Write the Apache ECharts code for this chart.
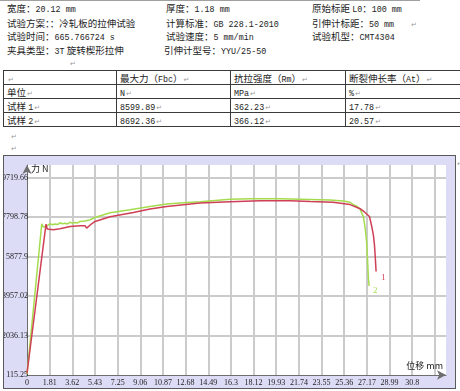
<!DOCTYPE html>
<html><head><meta charset="utf-8">
<script src="https://cdn.jsdelivr.net/npm/echarts@6/dist/echarts.min.js"></script>
<style>
html,body{margin:0;padding:0;background:#fff;}
body{width:460px;height:391px;overflow:hidden;position:relative;font-family:'Noto Sans CJK SC',sans-serif;color:#1c1c1c;}
.t{position:absolute;white-space:nowrap;font-size:9.5px;line-height:14px;height:14px;}
.t .l{font-family:'Liberation Mono',monospace;font-size:8.4px;}
.pm{color:#9a9a9a;font-family:'DejaVu Sans',sans-serif;font-size:7px;margin-left:1px;}
.hl{position:absolute;height:1px;background:#3a3a3a;}
.vl{position:absolute;width:1px;background:#3a3a3a;}
#topline{position:absolute;left:0;top:0;width:420px;height:1px;background:#a0a0a0;}
#frame{position:absolute;left:3px;top:155px;width:453px;height:234px;box-sizing:border-box;border:1px solid #5a5a5a;background:#dcdcf7;}
#chart{position:absolute;left:4px;top:156px;width:451px;height:232px;}
</style></head>
<body>
<div id="topline"></div>
<div id="doc"></div>
<div id="frame"></div>
<div id="chart"></div>
<script>
// ---------- document text ----------
const infoRow1 = ['宽度：20.12 mm', '厚度：1.18 mm', '原始标距 L0：100 mm'];
const infoRow2 = ['试验方案：：冷轧板的拉伸试验', '计算标准：GB 228.1-2010', '引伸计标距：50 mm'];
const infoRow3 = ['试验时间：665.766724 s', '试验速度：5 mm/min', '试验机型：CMT4304'];
const infoRow4 = ['夹具类型：3T 旋转楔形拉伸', '引伸计型号：YYU/25-50', ''];

const tableHead = ['', '最大力（Fbc）', '抗拉强度（Rm）', '断裂伸长率（At）'];
const unitsRow = ['单位', 'N', 'MPa', '%'];
const sample1Row = ['试样 1', '8599.89', '362.23', '17.78'];
const sample2Row = ['试样 2', '8692.36', '366.12', '20.57'];

// ---------- chart data ----------
const seriesNames = ['1', '2'];
const xTickLabels = ['0','1.81','3.62','5.43','7.25','9.06','10.87','12.68','14.49','16.3','18.12','19.93','21.74','23.55','25.36','27.17','28.99','30.8'];
const yTickLabels = ['115.25','2036.13','3957.02','5877.9','7798.78','9719.66'];

const sample1Disp  = [0, 1.52, 1.62, 2.10, 2.64, 3.44, 4.24, 4.64, 4.77, 5.17, 5.44, 6.64, 8.50, 9.84, 11.17, 12.50, 13.84, 16.24, 18.64, 21.03, 22.63, 24.47, 25.83, 26.63, 27.00, 27.38, 27.57, 27.70, 27.78, 27.85, 27.91];
const sample1Force = [200, 7462, 7218, 7184, 7233, 7345, 7379, 7379, 7267, 7476, 7589, 7818, 8027, 8193, 8320, 8403, 8486, 8549, 8595, 8600, 8564, 8530, 8410, 8210, 8040, 7830, 7330, 6900, 6450, 5800, 5150];

const sample2Disp  = [0, 1.18, 1.30, 1.45, 1.58, 1.84, 2.04, 2.24, 2.44, 2.64, 2.84, 3.04, 3.24, 3.44, 3.64, 3.84, 4.04, 4.24, 4.64, 5.04, 5.44, 6.64, 8.24, 9.84, 11.17, 12.50, 13.84, 16.24, 17.84, 20.23, 22.63, 24.23, 25.30, 25.83, 26.10, 26.40, 26.63, 26.90, 27.05, 27.15, 27.22, 27.30, 27.35];
const sample2Force = [150, 7476, 7312, 7390, 7379, 7476, 7430, 7470, 7440, 7525, 7480, 7500, 7470, 7549, 7510, 7540, 7520, 7589, 7610, 7671, 7784, 8013, 8159, 8320, 8437, 8500, 8551, 8667, 8690, 8692, 8660, 8640, 8580, 8525, 8400, 8320, 8190, 7800, 7200, 6600, 5800, 4800, 4450];

// ---------- build document ----------
const doc = document.getElementById('doc');
function fmt(s) {
  return s.replace(/[\x21-\x7e][\x20-\x7e]*[\x21-\x7e]|[\x21-\x7e]/g, m => '<span class="l">' + m + '</span>');
}
function addText(x, yc, s, pm) {
  const d = document.createElement('div');
  d.className = 't';
  d.style.left = x + 'px';
  d.style.top = (yc - 7) + 'px';
  d.innerHTML = fmt(s) + (pm ? '<span class="pm">↵</span>' : '');
  doc.appendChild(d);
}
function addPm(x, yc) {
  const d = document.createElement('div');
  d.className = 't';
  d.style.left = x + 'px';
  d.style.top = (yc - 7) + 'px';
  d.innerHTML = '<span class="pm">↵</span>';
  doc.appendChild(d);
}
const infoRows = [infoRow1, infoRow2, infoRow3, infoRow4];
const infoX = [7, 166, 312];
const infoY = [7.5, 22.5, 35.5, 50];
infoRows.forEach((row, r) => row.forEach((s, c) => {
  if (s) addText(c === 1 && r === 3 ? 164 : infoX[c], infoY[r], s, false);
}));
addPm(410, 22.5);
addPm(69, 62);

const tRows = [tableHead, unitsRow, sample1Row, sample2Row];
const colX = [3, 116, 230, 345];
const rowY = [70, 84, 98, 112, 126];
rowY.forEach(y => { const d = document.createElement('div'); d.className = 'hl'; d.style.left = '3px'; d.style.top = y + 'px'; d.style.width = '460px'; doc.appendChild(d); });
colX.forEach(x => { const d = document.createElement('div'); d.className = 'vl'; d.style.left = x + 'px'; d.style.top = '70px'; d.style.height = '57px'; doc.appendChild(d); });
tRows.forEach((row, r) => row.forEach((s, c) => addText(colX[c] + 4, rowY[r] + 7.5, s, true)));
addPm(10, 135);
addPm(10, 147);
addPm(456, 162);

// ---------- chart ----------
const X_INTERVAL = 1.8116, X_MAX = 33.5;
const Y_MIN = 115.25, Y_INTERVAL = 1920.882, Y_MAX = 10338;
const xFmt = v => { const i = Math.round(v / X_INTERVAL); return (Math.abs(v - i * X_INTERVAL) < 1e-3 && i < xTickLabels.length) ? xTickLabels[i] : ''; };
const yFmt = v => { const i = Math.round((v - Y_MIN) / Y_INTERVAL); return (Math.abs(v - Y_MIN - i * Y_INTERVAL) < 1e-2 && i < yTickLabels.length) ? yTickLabels[i] : ''; };
const zip = (xs, ys) => xs.map((x, i) => [x, ys[i]]);
const RED = '#cf3f55', GREEN = '#a4dc4e';
const labelFont = "'Liberation Sans Narrow','Liberation Serif',serif";

const chart = echarts.init(document.getElementById('chart'), null, { renderer: 'canvas' });
chart.setOption({
  animation: false,
  backgroundColor: 'transparent',
  grid: { left: 23, top: 9, right: 9, bottom: 13, show: true, backgroundColor: '#ffffff', borderWidth: 0, containLabel: false, outerBoundsMode: 'none' },
  xAxis: {
    type: 'value', min: 0, max: X_MAX, interval: X_INTERVAL,
    name: '位移 mm', nameLocation: 'end', nameGap: -3,
    nameTextStyle: { align: 'right', verticalAlign: 'bottom', padding: [0, 0, 5, 0], fontSize: 9, color: '#222', fontFamily: 'Noto Sans CJK SC' },
    axisLine: { show: true, onZero: false, lineStyle: { color: '#6e6e6e', width: 1 }, symbol: ['none', 'arrow'], symbolSize: [7, 9] },
    axisTick: { show: false },
    axisLabel: { formatter: xFmt, margin: 4, fontSize: 8, color: '#222', fontFamily: labelFont, showMinLabel: true, showMaxLabel: false, hideOverlap: false },
    splitLine: { show: true, showMinLine: false, showMaxLine: false, lineStyle: { color: '#cbcbcb', width: 2 } }
  },
  yAxis: {
    type: 'value', min: Y_MIN, max: Y_MAX, interval: Y_INTERVAL,
    name: '力 N', nameLocation: 'end', nameGap: -4,
    nameTextStyle: { align: 'left', verticalAlign: 'middle', padding: [0, 0, 0, 4], fontSize: 9, color: '#222', fontFamily: 'Noto Sans CJK SC' },
    axisLine: { show: true, onZero: false, lineStyle: { color: '#6e6e6e', width: 1 }, symbol: ['none', 'arrow'], symbolSize: [7, 9] },
    axisTick: { show: false },
    axisLabel: { formatter: yFmt, margin: -1, fontSize: 8, color: '#222', fontFamily: labelFont, showMinLabel: true, showMaxLabel: false, hideOverlap: false },
    splitLine: { show: true, showMinLine: false, showMaxLine: false, lineStyle: { color: '#cbcbcb', width: 2 } }
  },
  series: [
    {
      name: seriesNames[1], type: 'line', data: zip(sample2Disp, sample2Force),
      showSymbol: false, symbol: 'none', lineStyle: { color: GREEN, width: 1.5 }, itemStyle: { color: GREEN },
      endLabel: { show: true, formatter: seriesNames[1], color: GREEN, fontSize: 9, fontFamily: labelFont, distance: 4, offset: [0, 5] }
    },
    {
      name: seriesNames[0], type: 'line', data: zip(sample1Disp, sample1Force),
      showSymbol: false, symbol: 'none', lineStyle: { color: RED, width: 1.5 }, itemStyle: { color: RED },
      endLabel: { show: true, formatter: seriesNames[0], color: RED, fontSize: 9, fontFamily: labelFont, distance: 5, offset: [0, 6] }
    }
  ]
});
</script>
</body></html>
